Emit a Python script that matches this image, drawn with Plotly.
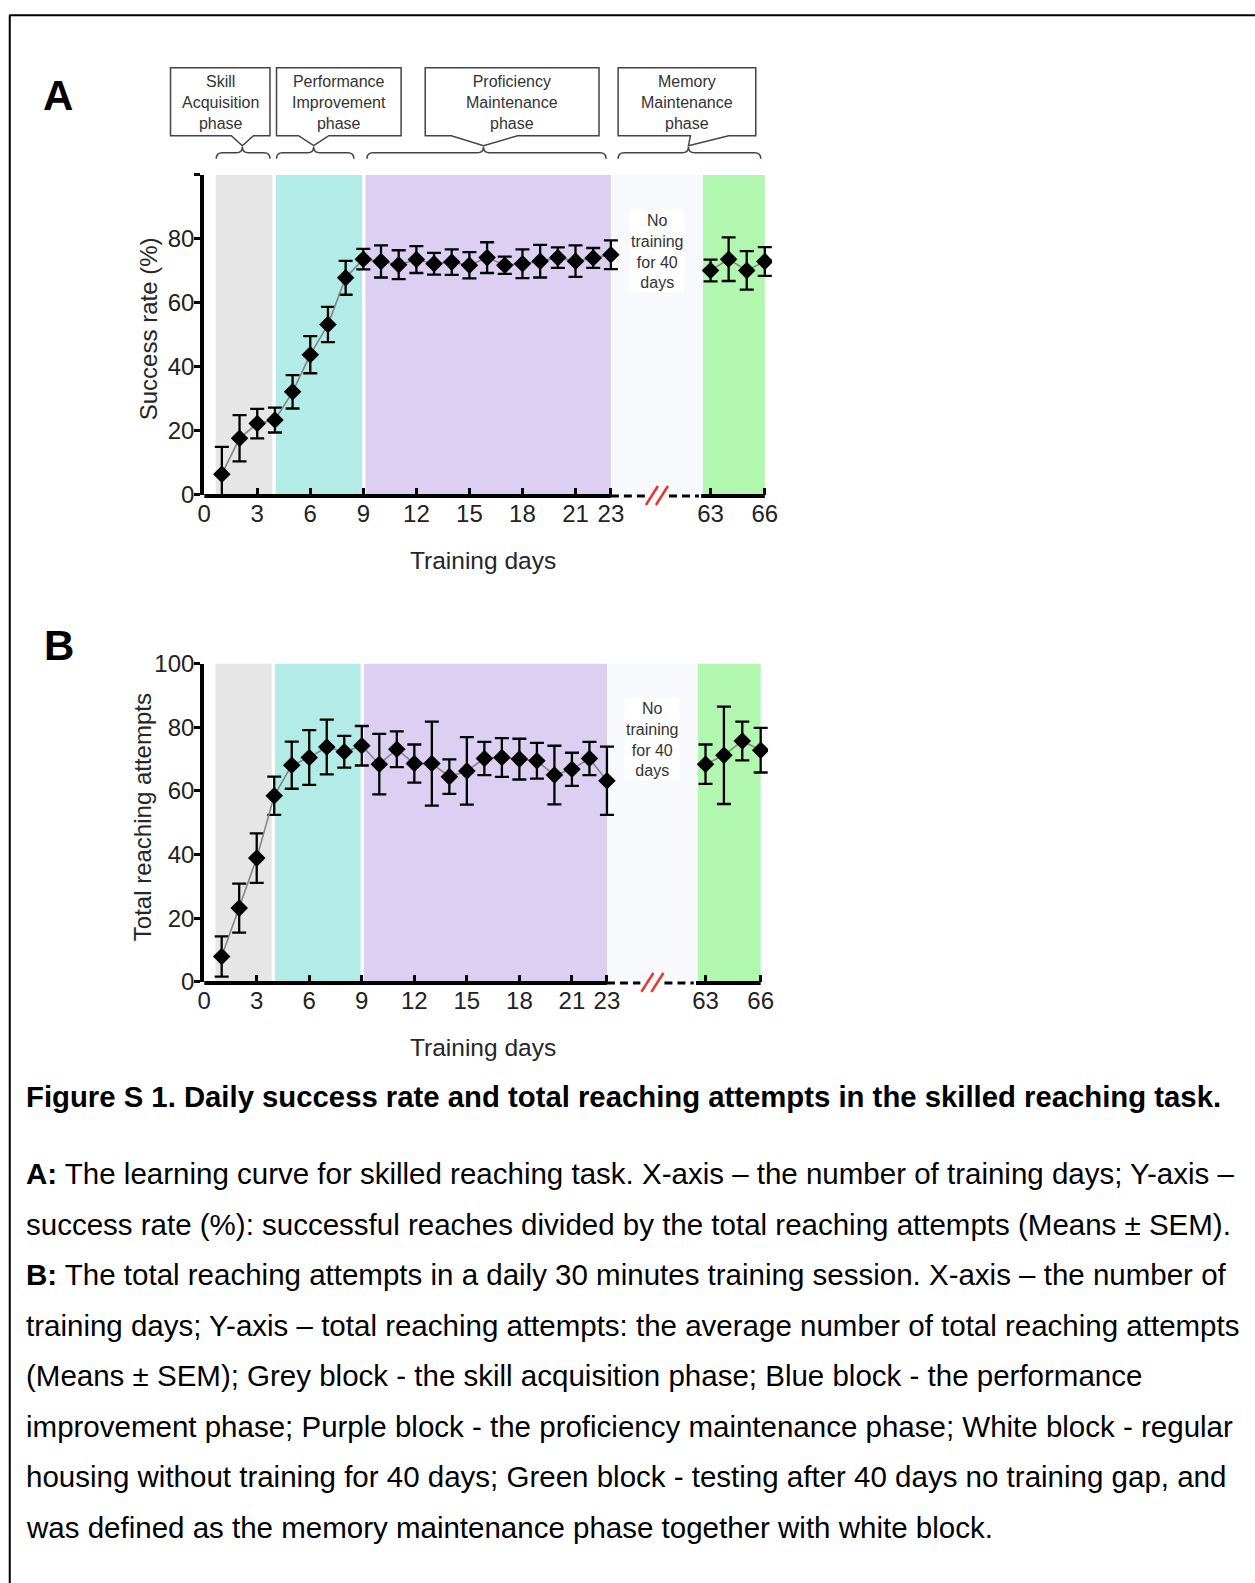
import plotly.graph_objects as go

W, H = 1255, 1583          # target picture size (= figure size)
# placement seen in the photograph: picture = K * (page + offset)
OFF_X, OFF_Y, K = 9.9, 12.2, 0.985
FONT = "Liberation Sans, Arial, Helvetica, sans-serif"

# ---------------- data ----------------
days_early = list(range(1, 24))
days_late = [63, 64, 65, 66]

success_early = [6.5, 17.7, 22.3, 23.4, 32.2, 43.8, 53.2, 67.8, 73.6, 72.9, 71.9, 73.5,
                 72.2, 72.7, 71.7, 74.1, 71.7, 72.2, 73.0, 74.1, 73.0, 74.0, 75.0]
success_early_sem = [8.5, 7.2, 4.6, 3.9, 5.2, 5.8, 5.5, 5.3, 3.2, 5.0, 4.5, 4.2,
                     3.4, 4.0, 4.1, 4.8, 2.7, 4.5, 5.1, 3.2, 4.9, 3.1, 4.5]
success_late = [70.1, 73.6, 70.1, 72.9]
success_late_sem = [3.4, 6.8, 6.0, 4.5]

attempts_early = [8.0, 23.2, 38.9, 58.5, 68.1, 70.5, 73.8, 72.3, 74.2, 68.4, 73.1, 68.6,
                  68.6, 64.5, 66.3, 70.2, 70.5, 70.0, 69.5, 65.0, 66.8, 70.2, 63.2]
attempts_early_sem = [6.3, 7.7, 7.8, 6.0, 7.4, 8.6, 8.6, 5.0, 6.2, 9.5, 5.6, 6.0,
                      13.2, 5.4, 10.6, 5.2, 6.1, 6.4, 5.6, 9.2, 5.2, 5.2, 10.7]
attempts_late = [68.4, 71.2, 75.7, 72.8]
attempts_late_sem = [6.2, 15.3, 6.1, 7.0]

x_ticks_early = [0, 3, 6, 9, 12, 15, 18, 21, 23]
x_ticks_late = [63, 66]
y_ticks = [0, 20, 40, 60, 80, 100]
y_labels_a = ["0", "20", "40", "60", "80", ""]
y_labels_b = ["0", "20", "40", "60", "80", "100"]

phase_labels = ["Skill<br>Acquisition<br>phase", "Performance<br>Improvement<br>phase",
                "Proficiency<br>Maintenance<br>phase", "Memory<br>Maintenance<br>phase"]
grey_span = (0.65, 3.86)
teal_span = (4.05, 8.93)
purple_span = (9.12, 23)
green_span = (62.58, 66)

caption_title = "Figure S 1. Daily success rate and total reaching attempts in the skilled reaching task."
caption_lines = [
    "<b>A:</b> The learning curve for skilled reaching task. X-axis \u2013 the number of training days; Y-axis \u2013",
    "success rate (%): successful reaches divided by the total reaching attempts (Means \u00b1 SEM).",
    "<b>B:</b> The total reaching attempts in a daily 30 minutes training session. X-axis \u2013 the number of",
    "training days; Y-axis \u2013 total reaching attempts: the average number of total reaching attempts",
    "(Means \u00b1 SEM); Grey block - the skill acquisition phase; Blue block - the performance",
    "improvement phase; Purple block - the proficiency maintenance phase; White block - regular",
    "housing without training for 40 days; Green block - testing after 40 days no training gap, and",
    "was defined as the memory maintenance phase together with white block.",
]

# ---------------- helpers (target picture pixel -> paper fraction) ----------------
def fx(px):
    return (px / K - OFF_X) / W

def fy(py):
    return 1 - (py / K - OFF_Y) / H

def P(x, y):
    return f"{fx(x):.6f},{fy(y):.6f}"

fig = go.Figure()
shapes = []
annotations = []

panels = [
    dict(tag="A", ax=("x", "y", "x2", "y2"), keys=("xaxis", "yaxis", "xaxis2", "yaxis2"),
         x0=206, s=17.6, x63=710, s2=18.0, ytop=173, ybot=494,
         early=success_early, early_sem=success_early_sem,
         late=success_late, late_sem=success_late_sem,
         ylabels=y_labels_a, ytitle="Success rate (%)", ytitle_x=150, ytitle_y=327,
         xtitle_y=560, label_x=61, label_y=94),
    dict(tag="B", ax=("x3", "y3", "x4", "y4"), keys=("xaxis3", "yaxis3", "xaxis4", "yaxis4"),
         x0=206, s=17.43, x63=705, s2=18.3, ytop=663, ybot=982,
         early=attempts_early, early_sem=attempts_early_sem,
         late=attempts_late, late_sem=attempts_late_sem,
         ylabels=y_labels_b, ytitle="Total reaching attempts", ytitle_x=144, ytitle_y=817,
         xtitle_y=1048, label_x=62, label_y=645),
]

layout_axes = {}
tickfont = dict(family=FONT, size=24, color="#222222")

for p in panels:
    xa, ya, xb, yb = p["ax"]
    kxa, kya, kxb, kyb = p["keys"]
    left_rng = [0, 23.6]
    right_rng = [62.3, 66.4]
    left_dom = [fx(p["x0"]), fx(p["x0"] + left_rng[1] * p["s"])]
    right_dom = [fx(p["x63"] + (right_rng[0] - 63) * p["s2"]), fx(p["x63"] + (right_rng[1] - 63) * p["s2"])]
    ydom = [fy(p["ybot"]), fy(p["ytop"])]
    x23_px = p["x0"] + 23 * p["s"]
    xg_px = p["x63"] + (green_span[0] - 63) * p["s2"]

    common_x = dict(showgrid=False, zeroline=False, showline=False, ticks="inside",
                    ticklen=7, tickwidth=3, tickcolor="black", tickfont=tickfont,
                    ticklabelstandoff=2)
    layout_axes[kxa] = dict(common_x, range=left_rng, domain=left_dom, anchor=ya,
                            tickvals=x_ticks_early)
    layout_axes[kxb] = dict(common_x, range=right_rng, domain=right_dom, anchor=yb,
                            tickvals=x_ticks_late)
    layout_axes[kya] = dict(range=[0, 100], domain=ydom, anchor=xa, showgrid=False,
                            zeroline=False, showline=True, linewidth=4, linecolor="black",
                            ticks="outside", ticklen=6, tickwidth=3, tickcolor="black",
                            tickvals=y_ticks, ticktext=p["ylabels"], tickfont=tickfont,
                            ticklabelstandoff=-5)
    layout_axes[kyb] = dict(range=[0, 100], domain=ydom, anchor=xb, visible=False)

    for span, col in [(grey_span, "#e6e6e6"), (teal_span, "#b3ece6"), (purple_span, "#dccff1")]:
        shapes.append(dict(type="rect", xref=xa, yref=ya, x0=span[0], x1=span[1], y0=0, y1=100,
                           fillcolor=col, line=dict(width=0), layer="below"))
    shapes.append(dict(type="rect", xref=xb, yref=yb, x0=green_span[0], x1=green_span[1], y0=0, y1=100,
                       fillcolor="#b2f7b0", line=dict(width=0), layer="below"))
    shapes.append(dict(type="rect", xref="paper", yref="paper", x0=fx(x23_px), x1=fx(xg_px),
                       y0=fy(p["ybot"]), y1=fy(p["ytop"]), fillcolor="#f8f9fc",
                       line=dict(width=0), layer="below"))
    shapes.append(dict(type="line", xref=xa, yref="paper", x0=0, x1=23, y0=fy(p["ybot"] + 1),
                       y1=fy(p["ybot"] + 1), line=dict(color="black", width=4)))
    shapes.append(dict(type="line", xref=xb, yref="paper", x0=green_span[0] - 0.1, x1=66,
                       y0=fy(p["ybot"] + 1), y1=fy(p["ybot"] + 1), line=dict(color="black", width=4)))
    mid = (x23_px + xg_px) / 2
    for a, b in [(x23_px, mid - 12), (mid + 12, xg_px - 4)]:
        shapes.append(dict(type="line", xref="paper", yref="paper", x0=fx(a), x1=fx(b),
                           y0=fy(p["ybot"] + 1), y1=fy(p["ybot"] + 1),
                           line=dict(color="black", width=3, dash="8px,5px")))
    for off in (-6, 4):
        shapes.append(dict(type="line", xref="paper", yref="paper",
                           x0=fx(mid + off - 5), y0=fy(p["ybot"] + 10),
                           x1=fx(mid + off + 7), y1=fy(p["ybot"] - 9),
                           line=dict(color="#e8352b", width=2.5)))

    for xs, ys, es, xr, yr in [(days_early, p["early"], p["early_sem"], xa, ya),
                               (days_late, p["late"], p["late_sem"], xb, yb)]:
        fig.add_trace(go.Scatter(
            x=xs, y=ys, xaxis=xr, yaxis=yr, mode="lines+markers", showlegend=False,
            line=dict(color="#858585", width=1.6),
            marker=dict(symbol="diamond", size=13.5, color="black"),
            error_y=dict(type="data", array=es, visible=True, color="black",
                         thickness=2.3, width=7)))

    annotations.append(dict(xref="paper", yref="paper", x=fx(mid), y=fy((p["ytop"] + p["ybot"]) / 2 - 83),
                            text="No<br>training<br>for 40<br>days", showarrow=False,
                            font=dict(family=FONT, size=16, color="#333333"),
                            bgcolor="#ffffff", xanchor="center", yanchor="middle"))
    annotations.append(dict(xref="paper", yref="paper", x=fx(p["ytitle_x"]),
                            y=fy(p["ytitle_y"]), text=p["ytitle"], textangle=-90,
                            showarrow=False, font=dict(family=FONT, size=24, color="#262626"),
                            xanchor="center", yanchor="middle"))
    annotations.append(dict(xref="paper", yref="paper", x=fx(484), y=fy(p["xtitle_y"]),
                            text="Training days", showarrow=False,
                            font=dict(family=FONT, size=24.5, color="#262626"),
                            xanchor="center", yanchor="middle"))
    annotations.append(dict(xref="paper", yref="paper", x=fx(p["label_x"]), y=fy(p["label_y"]),
                            text="<b>" + p["tag"] + "</b>", showarrow=False,
                            font=dict(family=FONT, size=42, color="black"),
                            xanchor="center", yanchor="middle"))

# ---------------- phase callouts (panel A) ----------------
boxes = [  # x_left, x_right, pointer base l/r, tip x, brace left, brace right, brace peak
    (172.5, 271.5, 233, 255, 244, 218, 271.5, 244),
    (278, 402, 300, 330, 315, 278, 355, 315),
    (426, 599, 452, 518, 484, 368, 606, 484),
    (618, 755, 690, 728, 688, 618, 760, 688),
]
by0, by1, tipy = 66, 134, 144
bpk, bln, bend = 145, 151, 157
for (xl, xr, pl, pr, tx, bl, br, bp), lab in zip(boxes, phase_labels):
    path = ("M " + P(xl, by0) + " L " + P(xr, by0) + " L " + P(xr, by1) + " L " + P(pr, by1) +
            " L " + P(tx, tipy) + " L " + P(pl, by1) + " L " + P(xl, by1) + " Z")
    shapes.append(dict(type="path", xref="paper", yref="paper", path=path,
                       fillcolor="white", line=dict(color="#444444", width=1.5)))
    r = 6
    brace = ("M " + P(bl, bend) + " Q " + P(bl, bln) + " " + P(bl + r, bln) +
             " L " + P(bp - r, bln) + " Q " + P(bp, bln) + " " + P(bp, bpk) +
             " Q " + P(bp, bln) + " " + P(bp + r, bln) + " L " + P(br - r, bln) +
             " Q " + P(br, bln) + " " + P(br, bend))
    shapes.append(dict(type="path", xref="paper", yref="paper", path=brace,
                       line=dict(color="#444444", width=1.5)))
    annotations.append(dict(xref="paper", yref="paper", x=fx((xl + xr) / 2), y=fy(101),
                            text=lab, showarrow=False, xanchor="center", yanchor="middle",
                            font=dict(family=FONT, size=16, color="#333333")))

# ---------------- frame (as high / left as the page allows) ----------------
top_y = max(8.5, (OFF_Y + 1.2) * K)
shapes.append(dict(type="line", xref="paper", yref="paper", x0=fx(12), x1=1.05, y0=fy(top_y), y1=fy(top_y),
                   line=dict(color="black", width=2)))
shapes.append(dict(type="line", xref="paper", yref="paper", x0=fx(12.5), x1=fx(12.5), y0=fy(top_y), y1=-0.05,
                   line=dict(color="black", width=2)))

# ---------------- caption ----------------
annotations.append(dict(xref="paper", yref="paper", x=fx(27), y=fy(1097), text="<b>" + caption_title + "</b>",
                        showarrow=False, xanchor="left", yanchor="middle",
                        font=dict(family=FONT, size=29.3, color="black")))
for i, line in enumerate(caption_lines):
    annotations.append(dict(xref="paper", yref="paper", x=fx(27), y=fy(1174 + i * 50.6), text=line,
                            showarrow=False, xanchor="left", yanchor="middle",
                            font=dict(family=FONT, size=29.5, color="black")))

fig.update_layout(width=W, height=H, autosize=False, margin=dict(l=0, r=0, t=0, b=0),
                  paper_bgcolor="white", plot_bgcolor="rgba(0,0,0,0)",
                  shapes=shapes, annotations=annotations, **layout_axes)

fig.write_html("out.html", config={"displayModeBar": False},
               post_script="document.body.style.margin='0';document.body.style.overflow='hidden';")
